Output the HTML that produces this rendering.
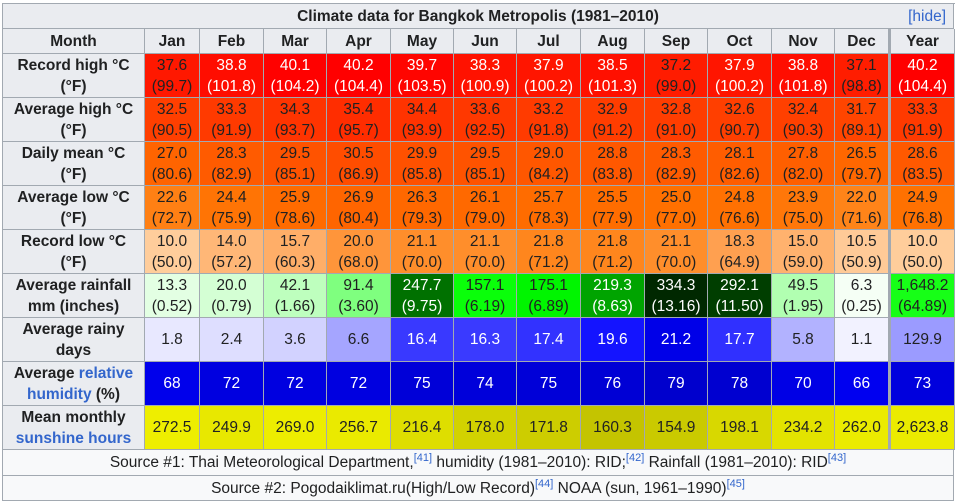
<!DOCTYPE html>
<html><head><meta charset="utf-8">
<style>
body{margin:0;background:#fff;width:956px;height:502px;position:relative;overflow:hidden;font-family:"Liberation Sans",sans-serif;color:#202122}
.c{position:absolute;box-sizing:border-box;border-right:1px solid #a2a9b1;border-bottom:1px solid #a2a9b1;display:flex;align-items:center;justify-content:center;text-align:center;font-size:15.5px;line-height:21px;white-space:nowrap}
.c>span{display:block}
.h{background:#eaecf0;font-weight:bold}
a{color:#3366cc;text-decoration:none}
sup{font-size:11px;line-height:0;color:#3366cc}
</style></head><body>
<div id="tbl" style="position:absolute;left:2px;top:3px;width:953px;height:498px;border-top:1px solid #a2a9b1;border-left:1px solid #a2a9b1;box-sizing:border-box"></div>
<script>
const months=["Jan","Feb","Mar","Apr","May","Jun","Jul","Aug","Sep","Oct","Nov","Dec","Year"];
const recordHigh=[37.6,38.8,40.1,40.2,39.7,38.3,37.9,38.5,37.2,37.9,38.8,37.1,40.2];
const recordHighF=["99.7","101.8","104.2","104.4","103.5","100.9","100.2","101.3","99.0","100.2","101.8","98.8","104.4"];
const avgHigh=[32.5,33.3,34.3,35.4,34.4,33.6,33.2,32.9,32.8,32.6,32.4,31.7,33.3];
const avgHighF=["90.5","91.9","93.7","95.7","93.9","92.5","91.8","91.2","91.0","90.7","90.3","89.1","91.9"];
const dailyMean=[27.0,28.3,29.5,30.5,29.9,29.5,29.0,28.8,28.3,28.1,27.8,26.5,28.6];
const dailyMeanF=["80.6","82.9","85.1","86.9","85.8","85.1","84.2","83.8","82.9","82.6","82.0","79.7","83.5"];
const avgLow=[22.6,24.4,25.9,26.9,26.3,26.1,25.7,25.5,25.0,24.8,23.9,22.0,24.9];
const avgLowF=["72.7","75.9","78.6","80.4","79.3","79.0","78.3","77.9","77.0","76.6","75.0","71.6","76.8"];
const recordLow=[10.0,14.0,15.7,20.0,21.1,21.1,21.8,21.8,21.1,18.3,15.0,10.5,10.0];
const recordLowF=["50.0","57.2","60.3","68.0","70.0","70.0","71.2","71.2","70.0","64.9","59.0","50.9","50.0"];
const rainfall=[13.3,20.0,42.1,91.4,247.7,157.1,175.1,219.3,334.3,292.1,49.5,6.3,1648.2];
const rainfallIn=["0.52","0.79","1.66","3.60","9.75","6.19","6.89","8.63","13.16","11.50","1.95","0.25","64.89"];
const rainyDays=[1.8,2.4,3.6,6.6,16.4,16.3,17.4,19.6,21.2,17.7,5.8,1.1,129.9];
const humidity=[68,72,72,72,75,74,75,76,79,78,70,66,73];
const sunshine=[272.5,249.9,269.0,256.7,216.4,178.0,171.8,160.3,154.9,198.1,234.2,262.0,2623.8];

const colW=[142,55,64,63,64,63,63,64,64,63,64,63,54,66];
const tbl=document.getElementById('tbl');
function lerp(stops,v){
  if(v<=stops[0][0])return stops[0][1];
  for(let i=1;i<stops.length;i++){if(v<=stops[i][0]){const a=stops[i-1],b=stops[i],t=(v-a[0])/(b[0]-a[0]);return a[1].map((x,k)=>Math.round(x+(b[1][k]-x)*t));}}
  return stops[stops.length-1][1];
}
const tStops=[[10,[255,205,155]],[15,[255,178,110]],[18.3,[255,160,80]],[21,[255,143,45]],[22,[255,132,25]],[25,[255,112,0]],[27,[255,100,0]],[30,[255,80,0]],[33,[255,60,0]],[35.5,[255,44,0]],[37.5,[255,25,0]],[40.2,[255,0,0]]];
const rStops=[[6,[246,255,246]],[13,[228,255,228]],[20,[212,255,212]],[42,[190,255,190]],[50,[176,255,176]],[91,[128,255,128]],[157,[10,255,10]],[175,[0,245,0]],[219,[0,165,0]],[248,[0,112,0]],[292,[0,62,0]],[334,[0,40,0]]];
const dStops=[[1.1,[242,242,255]],[1.8,[232,232,255]],[2.4,[222,222,255]],[3.6,[210,210,255]],[5.8,[178,178,255]],[6.6,[165,165,255]],[16.3,[58,58,255]],[17.7,[48,48,255]],[19.6,[20,20,255]],[21.2,[0,0,232]]];
const hStops=[[66,[0,0,240]],[79,[0,0,205]]];
const sStops=[[155,[202,202,0]],[160,[196,196,0]],[178,[210,210,0]],[216,[222,222,0]],[272,[238,238,0]]];
const rgb=a=>`rgb(${a[0]},${a[1]},${a[2]})`;
function cell(x,y,w,h,html,cls,bg,fg,name){
  const d=document.createElement('div');
  d.className='c '+(cls||'');
  d.style.left=x+'px';d.style.top=y+'px';d.style.width=w+'px';d.style.height=h+'px';
  if(bg)d.style.background=bg;if(fg)d.style.color=fg;
  d.innerHTML='<span>'+html+'</span>';
  
  
  tbl.appendChild(d);return d;
}
const t=cell(0,0,951,25,'Climate data for Bangkok Metropolis (1981–2010)','h','#eaecf0',null,'table-title');
const hide=document.createElement('a');hide.textContent='[hide]';hide.style.cssText='position:absolute;right:7px;font-weight:normal';


t.appendChild(hide);
let x=0;
cell(0,25,colW[0],25,'Month','h',null,null,'month-header');
x=colW[0];
months.forEach((m,i)=>{const w=colW[i+1];const d=cell(x,25,w,25,m,'h',null,null,'header-'+m.toLowerCase());if(i==12)d.style.borderLeft='2px solid #a2a9b1';x+=w;});
const rows=[
 ['Record high °C<br>(°F)',recordHigh,recordHighF,tStops,v=>v>=37.8,'record-high'],
 ['Average high °C<br>(°F)',avgHigh,avgHighF,tStops,()=>false,'average-high'],
 ['Daily mean °C<br>(°F)',dailyMean,dailyMeanF,tStops,()=>false,'daily-mean'],
 ['Average low °C<br>(°F)',avgLow,avgLowF,tStops,()=>false,'average-low'],
 ['Record low °C<br>(°F)',recordLow,recordLowF,tStops,()=>false,'record-low'],
 ['Average rainfall<br>mm (inches)',rainfall,rainfallIn,rStops,v=>v>=190&&v<1000,'average-rainfall'],
 ['Average rainy<br>days',rainyDays,null,dStops,v=>v>=10&&v<100,'average-rainy-days'],
 ['Average <a>relative</a><br><a>humidity</a> (%)',humidity,null,hStops,()=>true,'average-humidity'],
 ['Mean monthly<br><a>sunshine hours</a>',sunshine,null,sStops,()=>false,'sunshine-hours']
];
rows.forEach((r,ri)=>{
  const y=50+44*ri;
  cell(0,y,colW[0],44,r[0],'h',null,null,r[5]+'-label');
  let xx=colW[0];
  r[1].forEach((v,i)=>{
    const w=colW[i+1];
    let val=v.toFixed(1);
    if(v>=1000) val=v.toLocaleString('en-US',{minimumFractionDigits:1,maximumFractionDigits:1});
    if(r[5]=='average-humidity') val=String(v);
    const txt=r[2]?val+'<br>('+r[2][i]+')':val;
    let cv=v;
    if(r[5]=='average-rainfall'&&i==12) cv=150;
    if(r[5]=='average-rainy-days'&&i==12) cv=7.5;
    if(r[5]=='sunshine-hours'&&i==12) cv=262;
    const dark=r[4](v);
    const d=cell(xx,y,w,44,txt,'',rgb(lerp(r[3],cv)),dark?'#fff':'#202122',r[5]+'-'+months[i].toLowerCase());
    if(i==12)d.style.borderLeft='2px solid #a2a9b1';
    xx+=w;
  });
});
cell(0,446,951,26,'Source #1: Thai Meteorological Department,<sup>[41]</sup>&nbsp;humidity (1981–2010): RID;<sup>[42]</sup>&nbsp;Rainfall (1981–2010): RID<sup>[43]</sup>','', '#f8f9fa','#202122','source-1');
cell(0,472,951,25,'Source #2: Pogodaiklimat.ru(High/Low Record)<sup>[44]</sup>&nbsp;NOAA (sun, 1961–1990)<sup>[45]</sup>','', '#f8f9fa','#202122','source-2');
</script>
</body></html>
